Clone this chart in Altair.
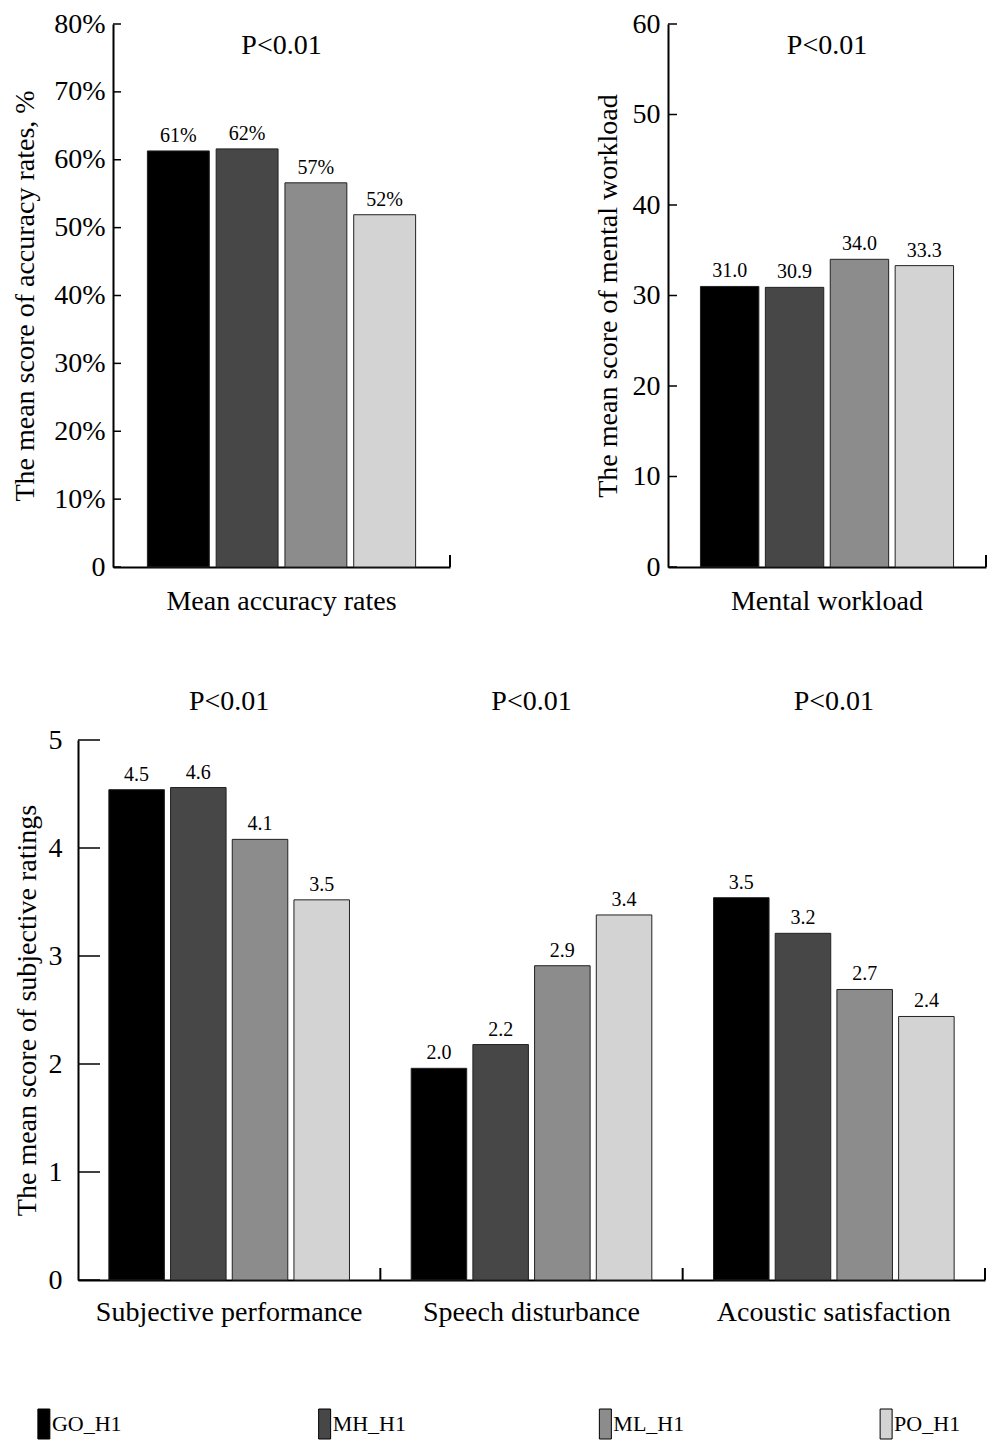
import altair as alt
import pandas as pd

FONT = "Liberation Serif"

groups = ["GO_H1", "MH_H1", "ML_H1", "PO_H1"]
colors = ["#000000", "#474747", "#8c8c8c", "#d3d3d3"]

acc_category = ["Mean accuracy rates"]
acc_values = [61.3, 61.6, 56.6, 51.9]
acc_ticks = [0, 10, 20, 30, 40, 50, 60, 70, 80]

mw_category = ["Mental workload"]
mw_values = [31.0, 30.9, 34.0, 33.3]
mw_ticks = [0, 10, 20, 30, 40, 50, 60]

subj_categories = ["Subjective performance", "Speech disturbance", "Acoustic satisfaction"]
subj_performance = [4.54, 4.56, 4.08, 3.52]
speech_disturbance = [1.96, 2.18, 2.91, 3.38]
acoustic_satisfaction = [3.54, 3.21, 2.69, 2.44]
subj_ticks = [0, 1, 2, 3, 4, 5]

p_text = "P<0.01"


def make_df(cats, series, fmt):
    rows = []
    for c, vals in zip(cats, series):
        for g, v in zip(groups, vals):
            rows.append({"category": c, "group": g, "value": v, "label": fmt(v)})
    return pd.DataFrame(rows)


def panel(df, cats, width, height, ymax, ticks, ytitle, ylabel_expr, ticklen,
          ylabel_pad, ytitle_pad, p_y, xlabel_pad):
    xaxis = alt.Axis(title=None, ticks=False, labelAngle=0, labelFontSize=28,
                     labelPadding=xlabel_pad, domainWidth=2, domainColor="black",
                     labelFont=FONT, labelColor="black", labelLimit=0)
    xscale = alt.Scale(paddingInner=0, paddingOuter=0)
    x = alt.X("category:N", sort=cats, scale=xscale, axis=xaxis)
    xo = alt.XOffset("group:N", sort=groups,
                     scale=alt.Scale(paddingInner=0.1, paddingOuter=0.5))
    yscale = alt.Scale(domain=[0, ymax], nice=False, zero=True)
    yaxis = alt.Axis(values=ticks, ticks=False, grid=False, title=ytitle,
                     labelExpr=ylabel_expr, labelFontSize=28, titleFontSize=28,
                     labelFont=FONT, titleFont=FONT, labelColor="black",
                     titleColor="black", titleFontWeight="normal",
                     labelPadding=ylabel_pad, titlePadding=ytitle_pad,
                     domainWidth=2, domainColor="black")
    y = alt.Y("value:Q", scale=yscale, axis=yaxis)

    bars = alt.Chart(df).mark_bar(stroke="#222222", strokeWidth=1).encode(
        x=x, xOffset=xo, y=y,
        color=alt.Color("group:N", scale=alt.Scale(domain=groups, range=colors),
                        legend=None),
    )
    vlabels = alt.Chart(df).mark_text(baseline="bottom", dy=-5, fontSize=20,
                                      font=FONT, color="black").encode(
        x=x, xOffset=xo, y=y, text="label:N"
    )
    tick_df = pd.DataFrame({"value": ticks})
    yticks = alt.Chart(tick_df).mark_rule(color="black", strokeWidth=1.5).encode(
        y=y, x=alt.value(0), x2=alt.value(ticklen)
    )
    cat_df = pd.DataFrame({"category": cats, "p": [p_text] * len(cats)})
    sep = alt.Chart(cat_df).mark_rule(color="black", strokeWidth=2).encode(
        x=alt.X("category:N", sort=cats, scale=xscale, axis=xaxis, bandPosition=1),
        y=alt.value(height), y2=alt.value(height - 12),
    )
    ptxt = alt.Chart(cat_df).mark_text(fontSize=28, font=FONT, color="black",
                                       baseline="middle").encode(
        x=x, y=alt.value(p_y), text="p:N"
    )
    return alt.layer(bars, vlabels, yticks, sep, ptxt).properties(
        width=width, height=height)


acc_df = make_df(acc_category, [acc_values], lambda v: f"{v:.0f}%")
mw_df = make_df(mw_category, [mw_values], lambda v: f"{v:.1f}")
subj_df = make_df(subj_categories,
                  [subj_performance, speech_disturbance, acoustic_satisfaction],
                  lambda v: f"{v:.1f}")

chart_a = panel(acc_df, acc_category, 337, 543, 80, acc_ticks,
                "The mean score of accuracy rates, %",
                "datum.value == 0 ? '0' : datum.value + '%'", 8, 8, 14, 22, 20)
chart_b = panel(mw_df, mw_category, 318, 543, 60, mw_ticks,
                "The mean score of mental workload",
                "datum.label", 9, 8, 10, 22, 20)
chart_c = panel(subj_df, subj_categories, 907, 540, 5, subj_ticks,
                "The mean score of subjective ratings",
                "datum.label", 22, 16, 7, -38, 18)

leg_df = pd.DataFrame({"group": groups})
leg_x = alt.X("group:N", sort=groups, scale=alt.Scale(type="point", padding=0.11),
              axis=None)
leg_sw = alt.Chart(leg_df).mark_point(
    shape="M-0.4,-1H0.4V1H-0.4Z", filled=True, size=900, stroke="black",
    strokeWidth=1, opacity=1).encode(
    x=leg_x, y=alt.value(15),
    fill=alt.Fill("group:N", scale=alt.Scale(domain=groups, range=colors), legend=None),
)
leg_tx = alt.Chart(leg_df).mark_text(align="left", dx=8, fontSize=22, font=FONT,
                                     color="black", baseline="middle").encode(
    x=leg_x, y=alt.value(15), text="group:N"
)
legend = alt.layer(leg_sw, leg_tx).properties(width=904, height=30)

# invisible spacer used to shift rows horizontally inside the concat layout
blank = alt.Chart(pd.DataFrame({"v": [0]})).mark_point(opacity=0, size=1).encode(
    x=alt.value(0), y=alt.value(0)).properties(width=1, height=1)

top = alt.hconcat(chart_a, chart_b, spacing=143).resolve_scale(xOffset="independent")
c_row = alt.concat(blank, chart_c, columns=2, align="none", spacing=-101
                   ).resolve_scale(xOffset="independent")
l_row = alt.concat(blank, legend, columns=2, align="none", spacing=-101)
upper = alt.vconcat(top, c_row, spacing=73).resolve_scale(xOffset="independent")
chart = alt.vconcat(upper, l_row, spacing=81).resolve_scale(
    xOffset="independent"
).properties(
    padding={"left": 3, "top": 2, "right": 0, "bottom": 0},
    background="white",
).configure_view(strokeWidth=0)

chart.save("out.html", embed_options={"renderer": "svg", "actions": False})
